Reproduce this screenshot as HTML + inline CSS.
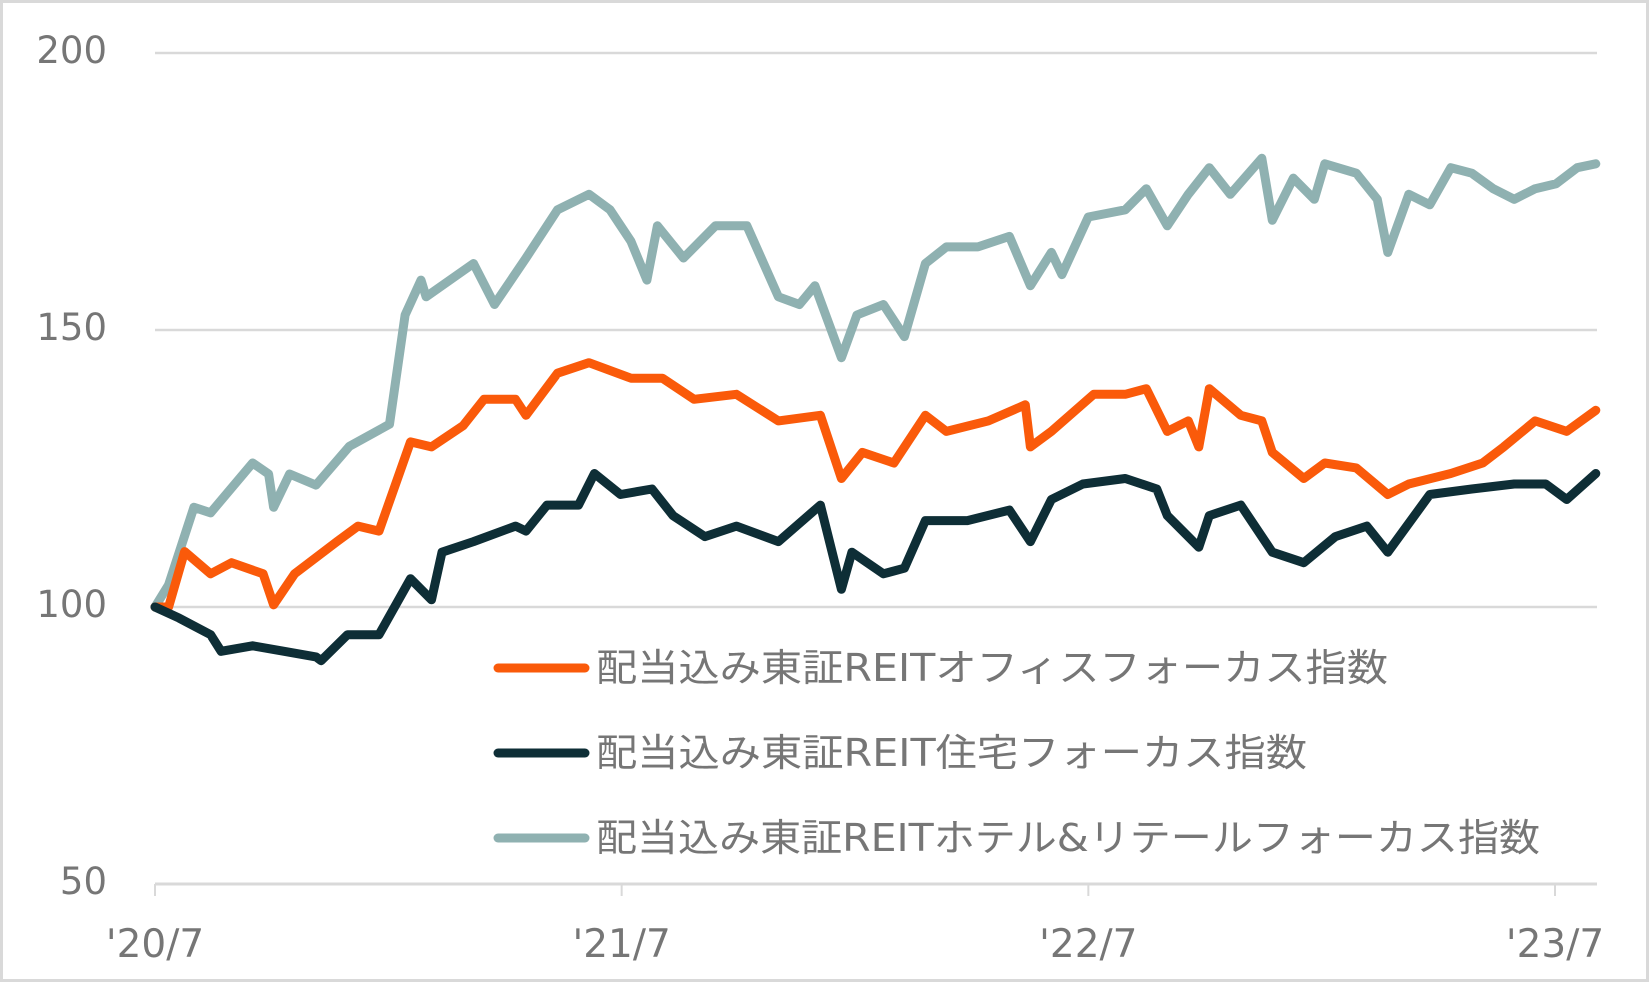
<!DOCTYPE html>
<html><head><meta charset="utf-8"><style>
html,body{margin:0;padding:0;background:#fff;}
svg{display:block;}
text{font-family:"DejaVu Sans","Noto Sans CJK JP",sans-serif;fill:#767676;}
</style></head><body>
<svg id="chart" width="1649" height="982" viewBox="0 0 1649 982" xmlns="http://www.w3.org/2000/svg">
<rect x="1.5" y="1.5" width="1646" height="979" fill="#fff" stroke="#d9d9d9" stroke-width="3"/>
<g id="grid"></g><g id="axes"></g><g id="series"></g><g id="legend"></g>
</svg>
<script>
const yTicks=[50,100,150,200];
const xTickLabels=["'20/7","'21/7","'22/7","'23/7"];
const xTickMonths=[0,12,24,36];
const seriesNames=["配当込み東証REITオフィスフォーカス指数","配当込み東証REIT住宅フォーカス指数","配当込み東証REITホテル&リテールフォーカス指数"];
const seriesColors=["#fa5a0a","#0e2e36","#8fb1b1"];
const officeMonths=[0,0.35,0.76,1.43,1.97,2.78,3.05,3.59,4.68,5.22,5.76,6.57,7.11,7.92,8.46,9.27,9.54,10.35,11.16,12.24,13.05,13.86,14.95,16.03,17.11,17.65,18.19,19.0,19.81,20.35,21.43,22.38,22.51,23.05,24.14,24.95,25.49,26.03,26.57,26.84,27.11,27.92,28.46,28.73,29.54,30.08,30.89,31.7,32.24,33.32,34.14,34.68,35.49,36.3,37.05];
const officeValues=[100,100,110,106,108,106,100.4,106,111.8,114.6,113.7,129.8,128.9,132.7,137.5,137.5,134.6,142.2,144.1,141.3,141.3,137.5,138.4,133.6,134.6,123.2,127.9,126,134.6,131.7,133.6,136.5,128.9,131.7,138.4,138.4,139.4,131.7,133.6,128.9,139.4,134.6,133.6,127.9,123.2,126,125.1,120.3,122.2,124.1,126,128.9,133.6,131.7,135.5];
const resiMonths=[0,0.62,1.43,1.7,2.51,3.32,4.14,4.27,4.95,5.76,6.57,7.11,7.38,8.19,9.27,9.54,10.08,10.89,11.3,11.97,12.78,13.32,14.14,14.95,16.03,17.11,17.65,17.92,18.73,19.27,19.81,20.89,21.97,22.51,23.05,23.86,24.95,25.76,26.03,26.84,27.11,27.92,28.73,29.54,30.35,31.16,31.7,32.78,33.86,34.95,35.76,36.3,37.05];
const resiValues=[100,98,95,92,93,92,91,90.3,95,95,105.1,101.3,109.9,111.8,114.6,113.7,118.4,118.4,124.1,120.3,121.3,116.5,112.7,114.6,111.8,118.4,103.2,109.9,106,107,115.6,115.6,117.5,111.8,119.4,122.2,123.2,121.3,116.5,110.8,116.5,118.4,109.9,108,112.7,114.6,109.9,120.3,121.3,122.2,122.2,119.4,124.1];
const hotelMonths=[0,0.35,1.0,1.43,2.51,2.92,3.05,3.46,4.14,5.0,6.03,6.43,6.84,6.97,8.19,8.73,9.54,10.35,11.16,11.7,12.24,12.65,12.92,13.59,14.41,15.22,16.03,16.57,16.97,17.65,18.05,18.73,19.27,19.81,20.35,21.16,21.97,22.51,23.05,23.32,24.0,24.95,25.49,26.03,26.57,27.11,27.65,28.46,28.73,29.27,29.81,30.08,30.89,31.43,31.7,32.24,32.78,33.32,33.86,34.41,34.95,35.49,36.03,36.57,37.05];
const hotelValues=[100,104,118,117,126,124,118,124,122,129,133,152.7,159,156,162,154.6,163,171.7,174.5,171.7,166,159,168.8,163,168.8,168.8,156,154.6,158,145,152.7,154.6,148.8,162,165,165,166.9,158,164,160,170.4,171.7,175.5,168.8,174.5,179.3,174.5,181,169.8,177.4,173.6,180,178.3,173.6,164,174.5,172.6,179.3,178.3,175.5,173.6,175.5,176.4,179.3,180];

const NS="http://www.w3.org/2000/svg";
const X0=155,X1=1597,PX_PER_MONTH=(1555-155)/36;
const xS=m=>X0+m*PX_PER_MONTH;
const yS=v=>607-(v-100)*(277/50);
function mk(tag,attrs,parent){const e=document.createElementNS(NS,tag);for(const k in attrs)e.setAttribute(k,attrs[k]);parent.appendChild(e);return e;}
const grid=document.getElementById('grid'),axes=document.getElementById('axes'),ser=document.getElementById('series'),leg=document.getElementById('legend');
yTicks.forEach(t=>{
  const l=mk('line',{x1:X0,x2:X1,y1:yS(t),y2:yS(t),stroke:'#d9d9d9','stroke-width':t===50?3:2.5},grid);
  
  
  const tx=mk('text',{x:107,y:yS(t)+10,'text-anchor':'end','font-size':37},axes);
  tx.textContent=t;
  
  
});
xTickMonths.forEach((m,i)=>{
  const tk=mk('line',{x1:xS(m),x2:xS(m),y1:yS(50),y2:yS(50)+12,stroke:'#d9d9d9','stroke-width':2},axes);
  
  
  const tx=mk('text',{x:xS(m),y:957,'text-anchor':'middle','font-size':39},axes);
  tx.textContent=xTickLabels[i];
  
  
});
const allM=[officeMonths,resiMonths,hotelMonths],allV=[officeValues,resiValues,hotelValues],keys=['office','residential','hotel-retail'];
[2,0,1].forEach(i=>{
  const d=allM[i].map((m,j)=>(j?'L':'M')+xS(m).toFixed(1)+','+yS(allV[i][j]).toFixed(1)).join(' ');
  const p=mk('path',{d:d,fill:'none',stroke:seriesColors[i],'stroke-width':9,'stroke-linejoin':'round','stroke-linecap':'round'},ser);
  
  
});
const legY=[668,753,838];
const legW=[792,711,944];
seriesNames.forEach((n,i)=>{
  const g=mk('g',{},leg);
  
  
  mk('line',{x1:498,x2:585,y1:legY[i],y2:legY[i],stroke:seriesColors[i],'stroke-width':9,'stroke-linecap':'round'},g);
  const tx=mk('text',{x:596,y:legY[i]+13,'font-size':38,textLength:legW[i],lengthAdjust:'spacingAndGlyphs'},g);
  tx.textContent=n;
  
  
});
</script>
</body></html>
